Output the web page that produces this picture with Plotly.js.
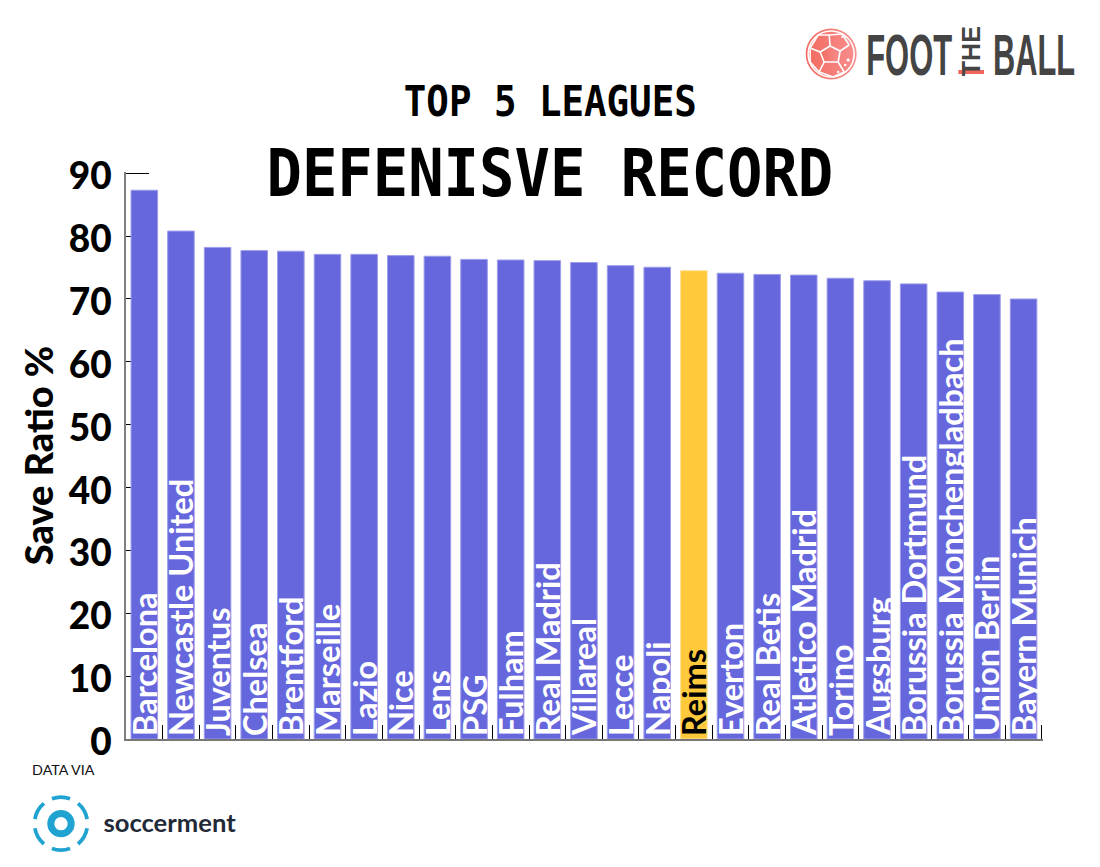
<!DOCTYPE html>
<html>
<head>
<meta charset="utf-8">
<script src="https://cdn.plot.ly/plotly-3.0.1.min.js"></script>
<style>html,body{margin:0;padding:0;background:#fff}#chart{width:1100px;height:867px}</style>
</head>
<body>
<div id="chart"></div>
<script>
const teams = ["Barcelona","Newcastle United","Juventus","Chelsea","Brentford","Marseille","Lazio","Nice","Lens","PSG","Fulham","Real Madrid","Villareal","Lecce","Napoli","Reims","Everton","Real Betis","Atletico Madrid","Torino","Augsburg","Borussia Dortmund","Borussia Monchengladbach","Union Berlin","Bayern Munich"];
const saveRatio = [87.3,80.8,78.2,77.7,77.6,77.1,77.1,76.9,76.8,76.3,76.2,76.1,75.8,75.3,75.05,74.5,74.1,73.9,73.8,73.3,72.9,72.4,71.1,70.7,70.0];
const yTicks = [0,10,20,30,40,50,60,70,80,90];
const highlightTeam = "Reims";
const barColor = "#6666dd", highlightColor = "#ffc93c";
const barEdge = "#9d9dea", highlightEdge = "#ffdf95";
const W = 1100, H = 867, L = 126, R = 57.2, T = 172.04, B = 127.7;
const pw = W - L - R, ph = H - T - B;
const px = x => (x - L) / pw, py = y => 1 - (y - T) / ph;
const mono = "DejaVu Sans Mono", narrow = "Liberation Sans Narrow, Liberation Sans", sans = "Lato, sans-serif";

function note(text, x, y, size, family, color, weight, extra) {
  return Object.assign({text, x: px(x), y: py(y), xref: "paper", yref: "paper", xanchor: "center", yanchor: "middle",
    showarrow: false, font: {size, family, color, weight}}, extra || {});
}
function svgImage(svg, x, y, w, h) {
  return {source: "data:image/svg+xml;charset=utf-8," + encodeURIComponent(svg), xref: "paper", yref: "paper",
    x: px(x), y: py(y), sizex: w / pw, sizey: h / ph, xanchor: "left", yanchor: "top", sizing: "stretch", layer: "above"};
}
const ballSvg = `<svg xmlns="http://www.w3.org/2000/svg" width="200" height="200" viewBox="0 0 52 52">
<defs><linearGradient id="g" x1="0" y1="0" x2="1" y2="0"><stop offset="0" stop-color="#f26a5e"/><stop offset="1" stop-color="#f98f8f"/></linearGradient></defs>
<circle cx="26" cy="26" r="25.5" fill="url(#g)"/>
<g fill="none" stroke="#fff" stroke-width="1.6" stroke-linejoin="round">
<circle cx="26" cy="26" r="23"/>
<path fill="url(#g)" d="M25 18 L35 23 L33 34 L19 34 L15 24 Z"/>
<path d="M25 18 L24 7 M35 23 L44 17 M33 34 L39 44 M19 34 L14 44 M15 24 L5 20"/>
<path d="M24 7 L13 7 L5 20 M24 7 L37 6 L44 17 M14 44 L28 49 L39 44 M14 44 L5 34 L5 20"/>
</g>
<g fill="#fff"><circle cx="43" cy="32" r="1.6"/><circle cx="40" cy="37" r="1.2"/><circle cx="33" cy="44" r="1.2"/><circle cx="37" cy="9" r="1"/></g>
</svg>`;
function arc(cx, cy, r, deg, half) {
  const a = (deg - half) * Math.PI / 180, b = (deg + half) * Math.PI / 180;
  return `M${cx + r * Math.cos(a)} ${cy - r * Math.sin(a)} A${r} ${r} 0 0 0 ${cx + r * Math.cos(b)} ${cy - r * Math.sin(b)}`;
}
const ringSvg = `<svg xmlns="http://www.w3.org/2000/svg" width="240" height="240" viewBox="0 0 60 60">
<circle cx="30" cy="30" r="10.2" fill="none" stroke="#21a3d1" stroke-width="7"/>
<g fill="none" stroke="#21a3d1" stroke-width="3.8" stroke-linecap="butt">
${[90,30,-30,-90,-150,150].map(d => `<path d="${arc(30, 30, 26.5, d, 20)}"/>`).join("")}
</g></svg>`;
const redBar = `<svg xmlns="http://www.w3.org/2000/svg" width="26" height="4"><rect width="26" height="4" fill="#f2675d"/></svg>`;

const trace = {
  type: "bar",
  x: teams,
  y: saveRatio,
  text: teams,
  textposition: "inside",
  insidetextanchor: "start",
  textangle: -90,
  constraintext: "none",
  cliponaxis: false,
  insidetextfont: {family: sans, size: 32.5, weight: 700,
    color: teams.map(t => t === highlightTeam ? "#000000" : "#ffffff")},
  marker: {color: teams.map(t => t === highlightTeam ? highlightColor : barColor),
    line: {width: 1, color: teams.map(t => t === highlightTeam ? highlightEdge : barEdge)}},
  hoverinfo: "x+y"
};
const layout = {
  width: W, height: H,
  margin: {l: L, r: R, t: T, b: B, pad: 0},
  paper_bgcolor: "#fff", plot_bgcolor: "#fff",
  bargap: 0.275,
  showlegend: false,
  xaxis: {type: "category", range: [-0.5, 24.53], tickson: "boundaries", ticks: "inside", ticklen: 14, tickwidth: 1, tickcolor: "#000",
    showticklabels: false, showgrid: false, zeroline: false, showline: true, linecolor: "#777", linewidth: 1.5, layer: "below traces"},
  yaxis: {range: [0, 90.2], tickvals: yTicks, ticks: "inside", ticklen: 23, tickwidth: 1, tickcolor: "#000",
    tickfont: {family: sans, size: 37, weight: 900, color: "#000"}, ticklabelstandoff: 5, ticklabelshift: 3,
    showgrid: false, zeroline: false, showline: true, linecolor: "#808080", linewidth: 2, layer: "below traces",
    title: {text: "Save Ratio %", font: {family: sans, size: 38, weight: 900, color: "#000"}, standoff: 3}},
  annotations: [
    note("TOP 5 LEAGUES", 550.5, 101, 43, mono, "#000", 700),
    note("DEFENISVE RECORD", 549.5, 174, 66, mono, "#000", 700),
    note("FOOT", 909, 54.5, 57, narrow, "#444444", 700),
    note("THE", 971, 51, 25, narrow, "#444444", 700, {textangle: -90}),
    note("BALL", 1034, 54.5, 57, narrow, "#444444", 700),
    note("DATA VIA", 63.5, 771, 12.5, sans, "#111", 400),
    note("soccerment", 169.5, 822, 25, sans, "#1f2937", 700)
  ],
  images: [
    svgImage(ballSvg, 805, 28, 52, 52),
    svgImage(ringSvg, 31, 794, 60, 60),
    svgImage(redBar, 958, 70, 26, 4)
  ]
};
const fitWidths = {"TOP 5 LEAGUES": 293, "DEFENISVE RECORD": 567, "FOOT": 86, "BALL": 82, "DATA VIA": 63, "soccerment": 133};
Plotly.newPlot("chart", [trace], layout, {displayModeBar: false, staticPlot: true}).then(gd => {
  gd.querySelectorAll(".annotation-text").forEach(t => {
    const w = fitWidths[t.textContent];
    if (w) {
      const ratio = w / t.getBBox().width;
      t.style.transformBox = "fill-box";
      t.style.transformOrigin = "center";
      t.style.transform = `scaleX(${ratio})`;
    }
  });
});
</script>
</body>
</html>
